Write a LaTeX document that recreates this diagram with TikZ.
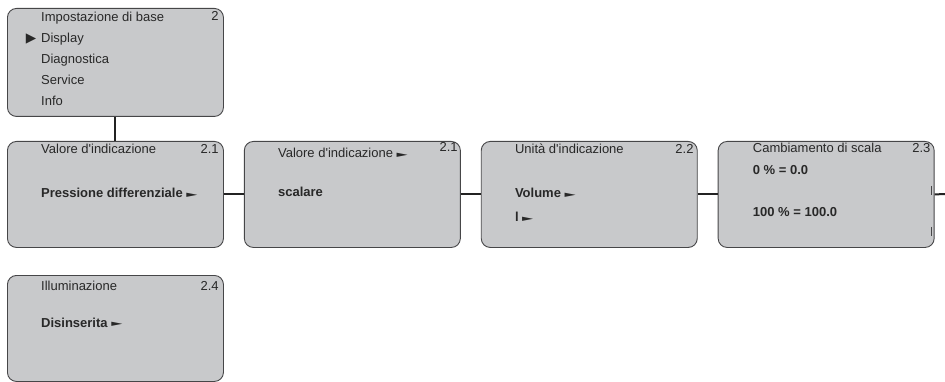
\documentclass[tikz,border=0pt]{standalone}
\usepackage{fontspec}
\setmainfont{Liberation Sans}
\newfontfamily\symfont{DejaVu Sans}
\usetikzlibrary{calc,positioning}
\definecolor{menuGray}{RGB}{200,201,203}
\definecolor{frameGray}{RGB}{70,70,72}
\definecolor{linkBlack}{RGB}{35,35,35}
\definecolor{inkGray}{RGB}{40,40,40}
\newcommand{\ptr}{\raisebox{0.3pt}{\scalebox{1.45}[0.85]{\symfont\fontsize{10}{10}\selectfont ►}}}
\newcommand{\selMark}{{\symfont\fontsize{13.5}{13.5}\selectfont ▶}}
\newcommand{\apo}{\textquotesingle}
\tikzset{
  menuBox/.style={rectangle,rounded corners=9pt,draw=frameGray,fill=menuGray,line width=0.9pt,
                  minimum width=216pt,minimum height=106pt,inner sep=0pt},
  menuText/.style={anchor=base west,inner sep=0pt,text=inkGray,font=\fontsize{13}{15}\selectfont},
  menuBold/.style={menuText,font=\fontsize{13}{15}\selectfont\bfseries},
  menuNum/.style={anchor=base east,inner sep=0pt,text=inkGray,font=\fontsize{13}{15}\selectfont},
  menuLink/.style={line width=2pt,draw=linkBlack},
  scrollMark/.style={line width=1.3pt,draw=frameGray},
}
\begin{document}
\begin{tikzpicture}[x=1pt,y=-1pt]
  \useasboundingbox (0,0) rectangle (945,382);
  % menu boxes
  \node[menuBox,minimum height=108pt,anchor=north west](m2) at (7,8){};
  \node[menuBox,anchor=north west](b21) at (7,141){};
  \node[menuBox,right=20pt of b21](b21s){};
  \node[menuBox,right=20pt of b21s](b22){};
  \node[menuBox,right=20pt of b22](b23){};
  \node[menuBox,anchor=north west](b24) at (7,275){};
  % main menu
  \foreach \txt [count=\i] in {Impostazione di base,\llap{\selMark\hspace{5pt}}Display,Diagnostica,Service,Info}
    \node[menuText](m2l\i) at ($(m2.north west)+(34,{14+21*(\i-1)})$){\txt};
  \node[menuNum](m2n) at ($(m2.north east)+(-5,13)$){2};
  % 2.1
  \node[menuText](b21t) at ($(b21.north west)+(34,13)$){Valore d\apo indicazione};
  \node[menuNum](b21n) at ($(b21.north east)+(-5,13)$){2.1};
  \node[menuBold](b21v) at ($(b21.north west)+(34,57)$){Pressione differenziale \ptr};
  % 2.1 scaling
  \node[menuText](b21st) at ($(b21s.north west)+(34,17)$){Valore d\apo indicazione \ptr};
  \node[menuNum](b21sn) at ($(b21s.north east)+(-3,11)$){2.1};
  \node[menuBold](b21sv) at ($(b21s.north west)+(34,56)$){scalare};
  % 2.2
  \node[menuText](b22t) at ($(b22.north west)+(34,13)$){Unità d\apo indicazione};
  \node[menuNum](b22n) at ($(b22.north east)+(-4,13)$){2.2};
  \node[menuBold](b22v) at ($(b22.north west)+(34,57)$){Volume \ptr};
  \node[menuBold](b22u) at ($(b22.north west)+(34,81)$){l \ptr};
  % 2.3
  \node[menuText](b23t) at ($(b23.north west)+(35,12)$){Cambiamento di scala};
  \node[menuNum](b23n) at ($(b23.north east)+(-4,12)$){2.3};
  \node[menuBold](b23a) at ($(b23.north west)+(35,34)$){0 \% = 0.0};
  \node[menuBold](b23b) at ($(b23.north west)+(35,76)$){100 \% = 100.0};
  \draw[scrollMark]($(b23.north east)+(-3,45)$)--++(0,9);
  \draw[scrollMark]($(b23.north east)+(-3,86)$)--++(0,9);
  % 2.4
  \node[menuText](b24t) at ($(b24.north west)+(34,15)$){Illuminazione};
  \node[menuNum](b24n) at ($(b24.north east)+(-5,15)$){2.4};
  \node[menuBold](b24v) at ($(b24.north west)+(34,52)$){Disinserita \ptr};
  % connectors
  \coordinate (exit) at (945,194);
  \draw[menuLink](m2.south)--(b21.north);
  \foreach \a/\b in {b21/b21s,b21s/b22,b22/b23}{\draw[menuLink](\a)--(\b);}
  \draw[menuLink](b23.east)--(exit);
\end{tikzpicture}
\end{document}
